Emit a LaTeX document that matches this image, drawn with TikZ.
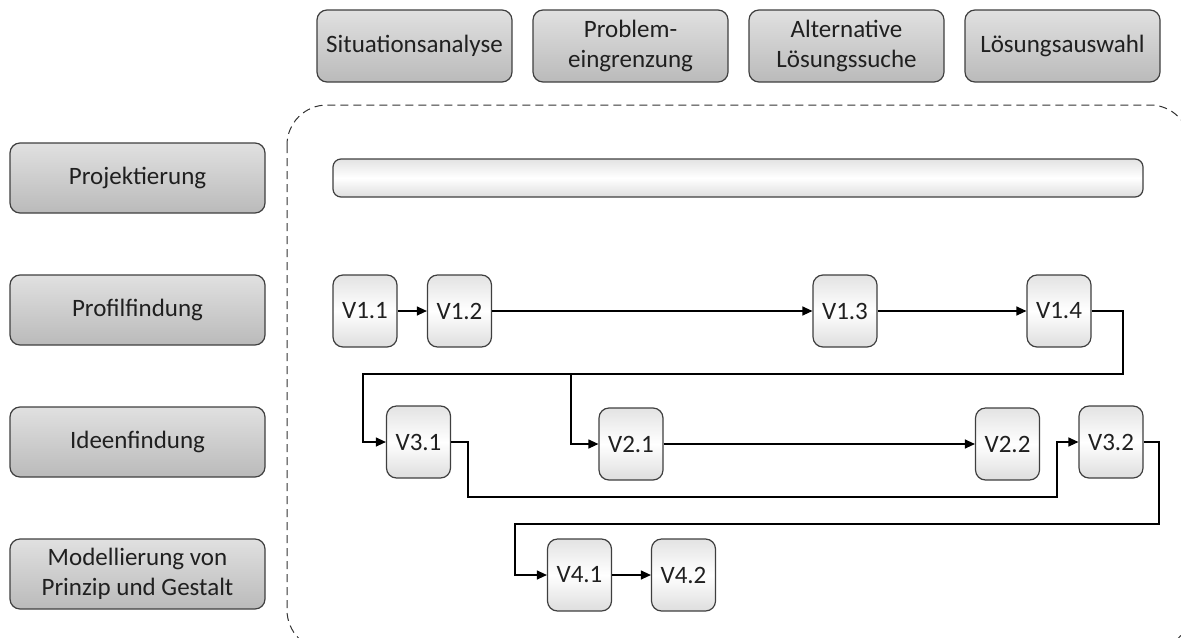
\documentclass[tikz,border=0pt]{standalone}
\usepackage{fontspec}
\setmainfont{Carlito}
\usetikzlibrary{arrows.meta}
\definecolor{bord}{HTML}{3F3F3F}
\definecolor{txt}{HTML}{202020}
\tikzset{
  phase/.style={draw=bord, line width=0.6pt, rounded corners=5pt, top color=black!12, bottom color=black!27,
    text=txt, align=center, font=\fontsize{12.5}{15}\selectfont, inner sep=0pt},
  toph/.style={phase, minimum width=97.5pt, minimum height=36pt},
  lefth/.style={phase, minimum width=127.5pt, minimum height=35pt},
  vbox/.style={draw=bord, line width=0.6pt, rounded corners=5pt, top color=black!11, bottom color=black!13, middle color=white,
    text=txt, font=\fontsize{12.5}{15}\selectfont, minimum width=32pt, minimum height=36pt, inner sep=0pt},
  bar/.style={draw=bord, line width=0.6pt, rounded corners=4pt, top color=black!11, bottom color=black!13, middle color=white,
    minimum width=405pt, minimum height=19pt, inner sep=0pt},
  conn/.style={line width=0.6pt, draw=black},
  arr/.style={conn, -{Triangle[length=5pt,width=4.5pt]}},
  container/.style={draw=black!80, line width=0.5pt, dash pattern=on 4pt off 2.5pt, rounded corners=20pt}
}
\begin{document}
\begin{tikzpicture}[x=0.5pt,y=-0.5pt]
\useasboundingbox (0,0) rectangle (1181,637);
\clip (0,0) rectangle (1181,637);
% container
\draw[container] (287,105) rectangle (1190,650);
% top phases
\node[toph] (sa) at (414.5,46) {Situationsanalyse};
\node[toph] (pe) at (630.5,46) {Problem-\\eingrenzung};
\node[toph] (al) at (846.5,46) {Alternative\\Lösungssuche};
\node[toph] (la) at (1062.5,46) {Lösungsauswahl};
% left phases
\node[lefth] (pj) at (137.5,178) {Projektierung};
\node[lefth] (pf) at (137.5,310) {Profilfindung};
\node[lefth] (if) at (137.5,442) {Ideenfindung};
\node[lefth] (mp) at (137.5,574) {Modellierung von\\Prinzip und Gestalt};
% bar
\node[bar] (pbar) at (738,178) {};
% V boxes
\node[vbox] (v11) at (365,311) {V1.1};
\node[vbox] (v12) at (459.5,311) {V1.2};
\node[vbox] (v13) at (845,311) {V1.3};
\node[vbox] (v14) at (1059,311) {V1.4};
\node[vbox] (v31) at (418.5,442) {V3.1};
\node[vbox] (v21) at (631,444) {V2.1};
\node[vbox] (v22) at (1007.5,444) {V2.2};
\node[vbox] (v32) at (1111,442) {V3.2};
\node[vbox] (v41) at (579.5,575) {V4.1};
\node[vbox] (v42) at (683.5,575) {V4.2};
% connectors
\draw[arr] (v11) -- (v12);
\draw[arr] (v12) -- (v13);
\draw[arr] (v13) -- (v14);
\coordinate (b1) at (1123,374);
\coordinate (b2) at (363,374);
\coordinate (b3) at (571,374);
\draw[arr] (v14.east) -| (b1) -- (b2) |- (v31.west);
\draw[arr] (b3) |- (v21.west);
\draw[arr] (v21) -- (v22);
\coordinate (b4) at (468,497);
\coordinate (b5) at (1057,497);
\draw[arr] (v31.east) -| (b4) -- (b5) |- (v32.west);
\coordinate (b6) at (1159,524);
\coordinate (b7) at (515,524);
\draw[arr] (v32.east) -| (b6) -- (b7) |- (v41.west);
\draw[arr] (v41) -- (v42);
\end{tikzpicture}
\end{document}
